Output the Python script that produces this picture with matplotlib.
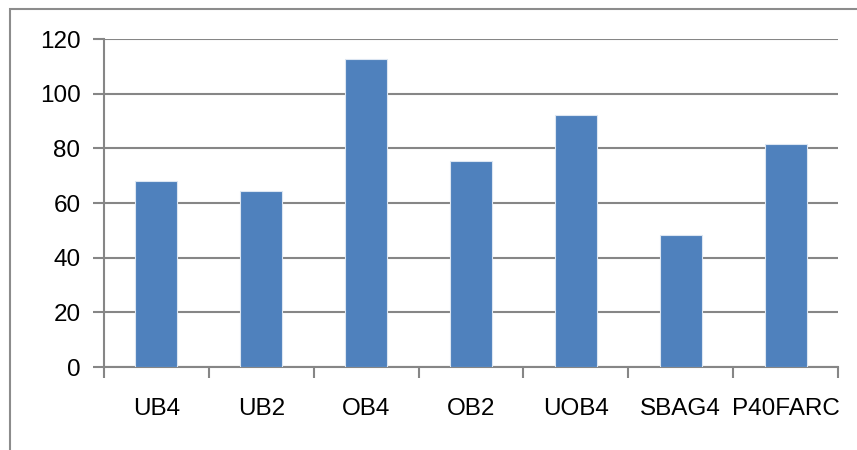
import matplotlib
matplotlib.use("Agg")
import matplotlib.pyplot as plt
from matplotlib.patches import Rectangle
import numpy as np

categories = ["UB4", "UB2", "OB4", "OB2", "UOB4", "SBAG4", "P40FARC"]
values = [68.2, 64.4, 112.7, 75.2, 92.1, 48.2, 81.7]
y_ticks = [0, 20, 40, 60, 80, 100, 120]

BAR_COLOR = "#4f81bd"
GRID_COLOR = "#868686"

plt.rcParams["font.family"] = ["Liberation Sans Narrow", "Liberation Sans", "DejaVu Sans"]

W, H = 857, 450
fig = plt.figure(figsize=(W / 100, H / 100), dpi=100)

# chart-area frame (only left and top edges are visible in the reference)
fig.patches.append(Rectangle((10 / W, -0.1), 1.2, 1.1 - 9.5 / H,
                             transform=fig.transFigure, fill=False,
                             edgecolor="#8c8c8c", linewidth=1.5))

ax = fig.add_axes([104 / W, 1 - 367 / H, (838 - 104) / W, (367 - 39) / H])

x = np.arange(len(categories))
ax.bar(x, values, width=0.4, color=BAR_COLOR, edgecolor="#dce6f2",
       linewidth=0.8, zorder=3)

ax.set_xlim(-0.5, len(categories) - 0.5)
ax.set_ylim(0, 120)
ax.set_yticks(y_ticks)
ax.yaxis.grid(True, color=GRID_COLOR, linewidth=1.5, zorder=0)
ax.set_axisbelow(True)

# category labels centred, tick marks at category boundaries
ax.set_xticks(x)
ax.set_xticklabels(categories, fontsize=17.5)
ax.set_xticks(np.arange(len(categories) + 1) - 0.5, minor=True)
ax.tick_params(axis="x", which="major", length=0, pad=22)
ax.tick_params(axis="x", which="minor", length=8, width=1.5,
               color=GRID_COLOR, direction="out")
ax.tick_params(axis="y", length=8, width=1.5, color=GRID_COLOR,
               labelsize=17.5, pad=9)

for side in ["top", "right"]:
    ax.spines[side].set_visible(False)
for side in ["left", "bottom"]:
    ax.spines[side].set_color(GRID_COLOR)
    ax.spines[side].set_linewidth(1.5)

fig.savefig("out.png", dpi=100)
